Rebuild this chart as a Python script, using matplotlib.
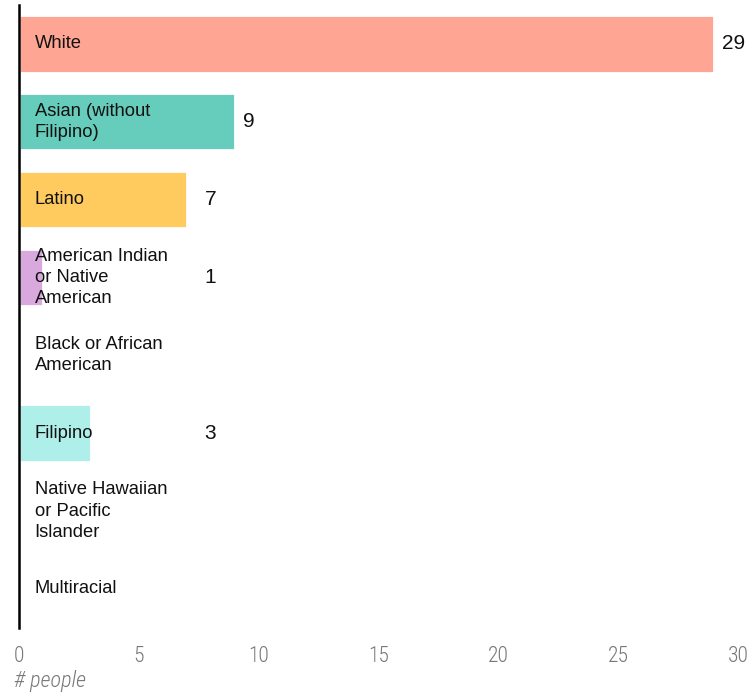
import matplotlib.pyplot as plt

plt.rcParams["font.family"] = ["Liberation Sans", "DejaVu Sans"]

# people per group, top to bottom
groups = [
    "White",
    "Asian (without\nFilipino)",
    "Latino",
    "American Indian\nor Native\nAmerican",
    "Black or African\nAmerican",
    "Filipino",
    "Native Hawaiian\nor Pacific\nIslander",
    "Multiracial",
]
counts = [29, 9, 7, 1, 0, 3, 0, 0]
bar_colors = [
    "#FFA594",
    "#66CCBB",
    "#FFCB5E",
    "#D9A9DD",
    "#BBBBBB",
    "#AFEFEA",
    "#BBBBBB",
    "#BBBBBB",
]
x_ticks = [0, 5, 10, 15, 20, 25, 30]

TICK_FONT = ["Roboto Condensed", "DejaVu Sans"]


def main():
    fig = plt.figure(figsize=(7.52, 6.93), dpi=100)
    ax = fig.add_axes([0.0253, 0.094, 0.956, 0.899])

    ypos = list(range(len(groups)))
    ax.barh(ypos, counts, height=0.74, color=bar_colors,
            edgecolor="white", linewidth=2.0, zorder=2)

    for y, name, n in zip(ypos, groups, counts):
        ax.text(0.65, y, name, ha="left", va="center", fontsize=13.2,
                linespacing=1.33, color="#111111", zorder=3)
        if n > 0:
            ax.text(max(n, 7.4) + 0.35, y, str(n), ha="left", va="center",
                    fontsize=15, color="#111111", zorder=3)

    ax.set_xlim(0, 30)
    ax.set_ylim(len(groups) - 0.5, -0.5)
    ax.set_yticks([])
    ax.set_xticks(x_ticks)
    ax.set_xticklabels([str(t) for t in x_ticks], family=TICK_FONT,
                       fontstretch="condensed", fontweight="light",
                       fontsize=15.5, color="#777777")
    ax.tick_params(axis="x", length=0, pad=13)

    for side in ("top", "right", "bottom"):
        ax.spines[side].set_visible(False)
    ax.spines["left"].set_linewidth(1.8)
    ax.spines["left"].set_color("black")

    fig.text(14 / 752, 1 - 681 / 693, "# people", ha="left", va="center",
             fontsize=16, style="italic", fontweight="light", color="#777777",
             family=TICK_FONT, fontstretch="condensed")

    fig.savefig("out.png", dpi=100)
    plt.close(fig)


if __name__ == "__main__":
    main()
